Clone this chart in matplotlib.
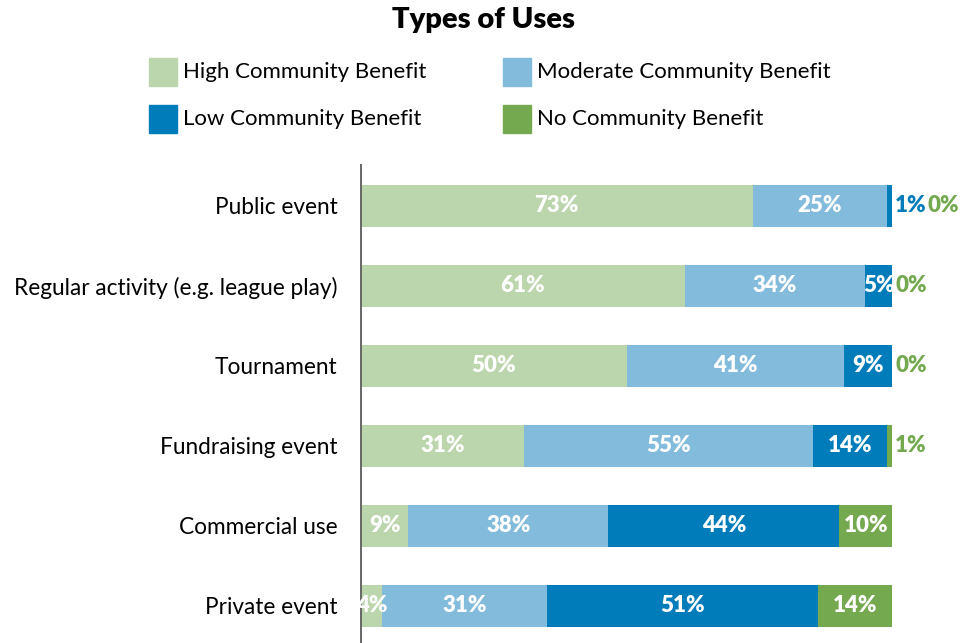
import matplotlib.pyplot as plt
from matplotlib.patches import Rectangle

# survey data: share of respondents per benefit level for each type of use
categories = ['Public event', 'Regular activity (e.g. league play)', 'Tournament',
              'Fundraising event', 'Commercial use', 'Private event']
high = [73, 61, 50, 31, 9, 4]
moderate = [25, 34, 41, 55, 38, 31]
low = [1, 5, 9, 14, 44, 51]
none_ = [0, 0, 0, 1, 10, 14]

series_names = ['High Community Benefit', 'Moderate Community Benefit',
                'Low Community Benefit', 'No Community Benefit']
colors = ['#BBD6AC', '#82BBDC', '#007CBA', '#74A950']

plt.rcParams['font.family'] = ['Lato', 'DejaVu Sans']

W, H = 974, 643
fig = plt.figure(figsize=(W / 100, H / 100), dpi=100)
ax = fig.add_axes([361 / W, 0, 531 / W, (H - 165) / H])

series = [high, moderate, low, none_]
ypos = list(range(len(categories)))
left = [0.0] * len(categories)
for name, vals, col in zip(series_names, series, colors):
    # each row is scaled to a full 100% bar
    widths = [vals[i] / sum(s[i] for s in series) * 100 for i in range(len(categories))]
    ax.barh(ypos, widths, left=left, height=0.525, color=col, label=name)
    left = [l + w for l, w in zip(left, widths)]

# value labels: white inside the segment, or coloured after the bar when tiny
for i in range(len(categories)):
    total = sum(s[i] for s in series)
    start = 0.0
    offset = 3
    for vals, col in zip(series, colors):
        w = vals[i] / total * 100
        txt = f'{vals[i]}%'
        if vals[i] <= 1:
            ax.annotate(txt, xy=(100, i), xytext=(offset, 0), textcoords='offset pixels',
                        ha='left', va='center', color=col, fontsize=16,
                        fontweight='heavy', annotation_clip=False)
            offset += 33
        else:
            ax.text(start + w / 2, i, txt, ha='center', va='center', color='white',
                    fontsize=16, fontweight='heavy')
        start += w

ax.set_xlim(0, 100)
ax.set_ylim(5.4625, -0.5125)
ax.set_yticks(ypos)
ax.set_yticklabels(categories, fontsize=16.3)
ax.tick_params(axis='y', length=0, pad=17)
ax.set_xticks([])
for side in ['top', 'right', 'bottom']:
    ax.spines[side].set_visible(False)
ax.spines['left'].set_color('#666666')
ax.spines['left'].set_linewidth(1.4)

fig.text(484 / W, 1 - 20 / H, 'Types of Uses', ha='center', va='center',
         fontsize=21, fontweight='heavy')

# legend laid out as a 2x2 grid of square swatches
legend_cells = [(149, 58), (503, 58), (149, 105), (503, 105)]
for (x, y), name, col in zip(legend_cells, series_names, colors):
    fig.patches.append(Rectangle((x / W, 1 - (y + 28) / H), 28 / W, 28 / H,
                                 transform=fig.transFigure, color=col))
    fig.text((x + 34) / W, 1 - (y + 14) / H, name, ha='left', va='center', fontsize=16)

fig.savefig('out.png', dpi=100)
